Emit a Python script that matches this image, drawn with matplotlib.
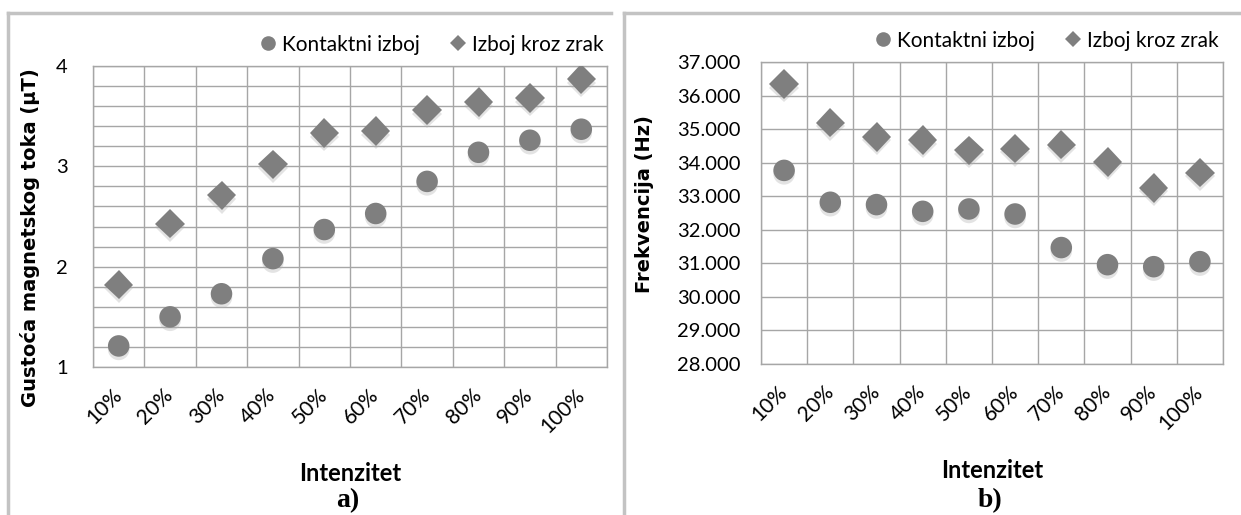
import matplotlib
matplotlib.use("Agg")
import matplotlib.pyplot as plt
from matplotlib.lines import Line2D
from matplotlib.ticker import FuncFormatter, MultipleLocator
import matplotlib.patheffects as pe

# ---- data ----
intensity = ["10%", "20%", "30%", "40%", "50%", "60%", "70%", "80%", "90%", "100%"]

flux_contact = [1.21, 1.50, 1.73, 2.08, 2.37, 2.53, 2.85, 3.14, 3.26, 3.37]
flux_air = [1.82, 2.43, 2.71, 3.02, 3.33, 3.35, 3.56, 3.64, 3.68, 3.87]

freq_contact = [33770, 32820, 32750, 32550, 32620, 32470, 31470, 30960, 30900, 31050]
freq_air = [36340, 35190, 34770, 34670, 34370, 34420, 34540, 34020, 33250, 33700]

series_labels = ["Kontaktni izboj", "Izboj kroz zrak"]

# ---- style ----
FONT = ["Lato", "DejaVu Sans"]
plt.rcParams["font.family"] = FONT
MARK = "#7f7f7f"
GRID = "#a6a6a6"
FRAME = "#c3c3c3"

W, H = 1241, 515
fig = plt.figure(figsize=(W / 100, H / 100), dpi=100)


def px_axes(x0, y0, x1, y1):
    return fig.add_axes([x0 / W, 1 - y1 / H, (x1 - x0) / W, (y1 - y0) / H])


shadow = [pe.SimplePatchShadow(offset=(0, -2.5), shadow_rgbFace="#b0b0b0", alpha=0.35),
          pe.Normal()]


def draw_panel(ax, ya, yb, ylim, major, minor, fmt, ylabel, ypad, ylabel_xy):
    x = list(range(len(intensity)))
    ax.plot(x, ya, linestyle="none", marker="o", markersize=15.5,
            color=MARK, markeredgewidth=0, path_effects=shadow, zorder=3)
    ax.plot(x, yb, linestyle="none", marker="D", markersize=15,
            color=MARK, markeredgewidth=0, path_effects=shadow, zorder=3)
    ax.set_xlim(-0.5, len(intensity) - 0.5)
    ax.set_ylim(*ylim)
    ax.set_xticks(x)
    ax.set_xticklabels(intensity, rotation=45, ha="right", va="center",
                       rotation_mode="anchor", fontsize=15)
    ax.set_xticks([i + 0.5 for i in range(-1, len(intensity))], minor=True)
    ax.yaxis.set_major_locator(MultipleLocator(major))
    if minor:
        ax.yaxis.set_minor_locator(MultipleLocator(minor))
    ax.yaxis.set_major_formatter(FuncFormatter(fmt))
    ax.tick_params(axis="both", which="both", length=0)
    ax.tick_params(axis="x", pad=18)
    ax.tick_params(axis="y", labelsize=14.5, pad=ypad)
    ax.grid(True, axis="x", which="minor", color=GRID, linewidth=1)
    ax.grid(True, axis="y", which="both", color=GRID, linewidth=1)
    ax.set_axisbelow(True)
    for s in ax.spines.values():
        s.set_color(GRID)
        s.set_linewidth(1)
    ax.set_xlabel("Intenzitet", fontsize=17, fontweight="bold", labelpad=18)
    ax.set_ylabel(ylabel, fontsize=14, fontweight="bold",
                  family=["DejaVu Sans"], va="center")
    ax.yaxis.set_label_coords(*ylabel_xy)
    handles = [
        Line2D([], [], linestyle="none", marker="o", markersize=10.5,
               color=MARK, markeredgewidth=0),
        Line2D([], [], linestyle="none", marker="D", markersize=8,
               color=MARK, markeredgewidth=0),
    ]
    ax.legend(handles, series_labels, ncol=2, loc="lower right",
              bbox_to_anchor=(1.015, 1.0), frameon=False, fontsize=15,
              handlelength=0.7, handletextpad=0.3, columnspacing=1.5,
              borderaxespad=0.15)


axA = px_axes(93, 66, 607, 367)
draw_panel(axA, flux_contact, flux_air, (1, 4), 1, 0.2,
           lambda v, p: f"{v:.0f}",
           "Gustoća magnetskog toka (µT)", 18, (-0.122, 0.43))

axB = px_axes(761, 62, 1223, 364)
draw_panel(axB, freq_contact, freq_air, (28000, 37000), 1000, None,
           lambda v, p: f"{v:,.0f}".replace(",", "."),
           "Frekvencija (Hz)", 15, (-0.252, 0.53))

# panel captions
fig.text(348 / W, 1 - 501 / H, "a)", family=["Liberation Serif"],
         fontweight="bold", fontsize=20, ha="center", va="center")
fig.text(990 / W, 1 - 501 / H, "b)", family=["Liberation Serif"],
         fontweight="bold", fontsize=20, ha="center", va="center")

# panel frames
for xs, ys in [((8, 611), (13, 13)), ((8, 8), (13, 515)),
               ((624, 1241), (13, 13)), ((624, 624), (13, 515))]:
    fig.add_artist(Line2D([v / W for v in xs], [1 - v / H for v in ys],
                          color=FRAME, linewidth=2.5, transform=fig.transFigure))

fig.savefig("out.png", dpi=100)
